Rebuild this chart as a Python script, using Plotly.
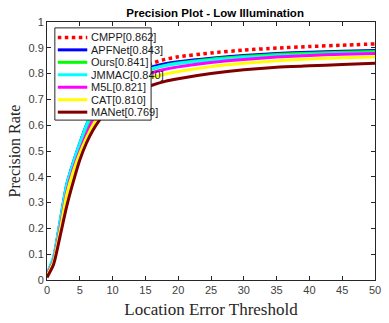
import plotly.graph_objects as go

thresholds = [0, 1, 2, 3, 4, 5, 6, 7, 8, 9, 10, 12, 14, 16, 18, 20, 25, 30, 35, 40, 45, 50]

names = ["CMPP[0.862]", "APFNet[0.843]", "Ours[0.841]", "JMMAC[0.840]",
         "M5L[0.821]", "CAT[0.810]", "MANet[0.769]"]
colors = ["#ff0000", "#0000ff", "#00ff00", "#00ffff", "#ff00ff", "#ffff00", "#800000"]
dashes = ["dot", "solid", "solid", "solid", "solid", "solid", "solid"]

cmpp   = [0.02, 0.08, 0.22, 0.36, 0.45, 0.525, 0.595, 0.65, 0.695, 0.73, 0.755, 0.79, 0.82, 0.84, 0.855, 0.865, 0.88, 0.891, 0.899, 0.905, 0.910, 0.915]
apfnet = [0.02, 0.085, 0.225, 0.37, 0.455, 0.53, 0.60, 0.655, 0.70, 0.735, 0.76, 0.79, 0.81, 0.826, 0.838, 0.846, 0.86, 0.87, 0.878, 0.883, 0.887, 0.89]
ours   = [0.02, 0.08, 0.21, 0.35, 0.44, 0.51, 0.58, 0.635, 0.68, 0.715, 0.74, 0.775, 0.80, 0.818, 0.832, 0.841, 0.856, 0.866, 0.874, 0.879, 0.883, 0.886]
jmmac  = [0.025, 0.09, 0.23, 0.37, 0.455, 0.53, 0.60, 0.655, 0.70, 0.73, 0.755, 0.785, 0.805, 0.82, 0.831, 0.839, 0.852, 0.862, 0.869, 0.874, 0.878, 0.88]
m5l    = [0.02, 0.075, 0.20, 0.34, 0.43, 0.50, 0.565, 0.62, 0.665, 0.70, 0.725, 0.76, 0.787, 0.804, 0.817, 0.826, 0.843, 0.855, 0.864, 0.870, 0.875, 0.878]
cat    = [0.015, 0.07, 0.19, 0.33, 0.42, 0.49, 0.55, 0.60, 0.64, 0.675, 0.70, 0.738, 0.767, 0.785, 0.798, 0.808, 0.827, 0.840, 0.850, 0.857, 0.861, 0.864]
manet  = [0.01, 0.06, 0.17, 0.285, 0.38, 0.465, 0.53, 0.58, 0.62, 0.65, 0.675, 0.71, 0.735, 0.755, 0.77, 0.78, 0.80, 0.815, 0.825, 0.83, 0.835, 0.84]

series = [cmpp, apfnet, ours, jmmac, m5l, cat, manet]

fig = go.Figure()
for name, vals, col, dash in zip(names, series, colors, dashes):
    fig.add_trace(go.Scatter(
        x=thresholds, y=vals, mode="lines", name=name,
        line=dict(color=col, width=3.5 if dash == "dot" else 3, dash=dash, shape="spline", smoothing=0.6),
        showlegend=False,
    ))

W, H = 389, 323
L, R, T, B = 47, 8, 22, 38
pw, ph = W - L - R, H - T - B

def px2paper_x(px):
    return (px - L) / pw

def px2paper_y(py):
    return (H - B - py) / ph

shapes = []
annotations = []
# legend box
shapes.append(dict(type="rect", xref="paper", yref="paper",
                   x0=px2paper_x(55), x1=px2paper_x(153),
                   y0=px2paper_y(122), y1=px2paper_y(28),
                   line=dict(color="#262626", width=1), fillcolor="white", layer="above"))
for i, (name, col, dash) in enumerate(zip(names, colors, dashes)):
    yy = px2paper_y(37.7 + 12.7 * i)
    shapes.append(dict(type="line", xref="paper", yref="paper",
                       x0=px2paper_x(58), x1=px2paper_x(88), y0=yy, y1=yy,
                       line=dict(color=col, width=3.5 if dash == "dot" else 3, dash=dash),
                       layer="above"))
    annotations.append(dict(xref="paper", yref="paper", x=px2paper_x(90), y=yy,
                            xanchor="left", yanchor="middle", showarrow=False,
                            text=name, font=dict(family="Liberation Sans, Arial", size=11, color="#1a1a1a")))

axis_common = dict(showline=True, linecolor="#262626", linewidth=1, mirror="ticks",
                   ticks="inside", ticklen=4, tickcolor="#262626", showgrid=False, zeroline=False,
                   tickfont=dict(family="Liberation Sans, Arial", size=11, color="#404040"))

fig.update_layout(
    width=W, height=H,
    margin=dict(l=L, r=R, t=T, b=B),
    paper_bgcolor="white", plot_bgcolor="white",
    title=dict(text="<b>Precision Plot - Low Illumination</b>", x=0.553, xanchor="center",
               y=1 - 13 / H, yanchor="middle",
               font=dict(family="Liberation Sans, Arial", size=11.5, color="#000000")),
    xaxis=dict(range=[0, 50], dtick=5, tick0=0,
               title=dict(text="Location Error Threshold", standoff=7,
                          font=dict(family="Liberation Serif, Times New Roman", size=17, color="#262626")),
               **axis_common),
    yaxis=dict(range=[0, 1], dtick=0.1, tick0=0,
               title=dict(text="Precision Rate", standoff=3,
                          font=dict(family="Liberation Serif, Times New Roman", size=16, color="#262626")),
               **axis_common),
    shapes=shapes, annotations=annotations,
)

fig.write_html("out.html")
